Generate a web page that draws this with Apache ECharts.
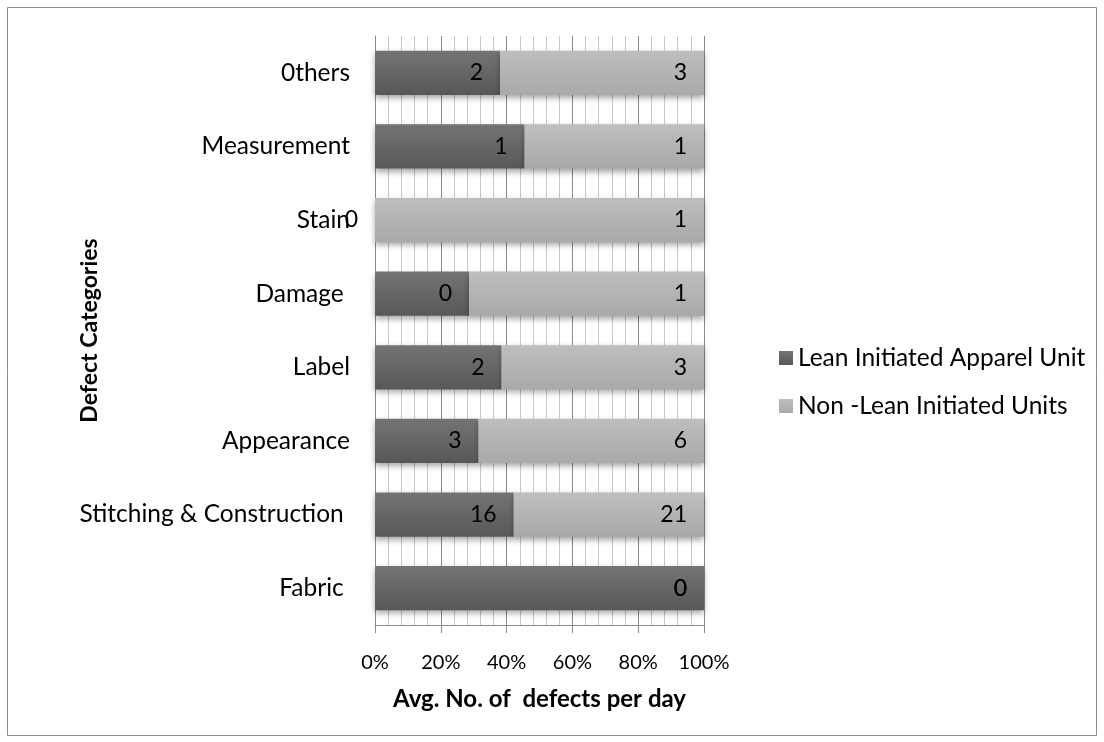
<!DOCTYPE html>
<html>
<head>
<meta charset="utf-8">
<script src="https://cdn.jsdelivr.net/npm/echarts@6/dist/echarts.min.js"></script>
<style>
html,body{margin:0;padding:0;background:#fff;}
#chart{width:1104px;height:742px;}
</style>
</head>
<body>
<div id="chart"></div>
<script>
// Categories listed bottom to top
const categories = ['Fabric ', 'Stitching & Construction ', 'Appearance', 'Label', 'Damage ', 'Stain', 'Measurement', '0thers'];
// Average number of defects per day (estimated from bar proportions and labels)
const leanValues = [0.2, 15.6, 2.8, 2.0, 0.4, 0, 1.0, 1.9];
const nonLeanValues = [0, 21.4, 6.1, 3.2, 1.0, 1.0, 1.2, 3.1];
const seriesNames = ['Lean Initiated Apparel Unit', 'Non -Lean Initiated Units'];
const xTickFormat = '{value}%';

const FONT = 'Lato';

function pctData(vals, other) {
  return vals.map((v, i) => {
    const total = v + other[i];
    return { value: total > 0 ? v / total * 100 : 0, raw: v };
  });
}

const chart = echarts.init(document.getElementById('chart'));

const barShadow = {
  shadowColor: 'rgba(0,0,0,0.35)',
  shadowBlur: 6,
  shadowOffsetY: 3
};

const labelCfg = {
  show: true,
  position: 'insideRight',
  distance: 17,
  color: '#000',
  fontFamily: FONT,
  fontSize: 23,
  formatter: p => String(Math.round(p.data.raw))
};

chart.setOption({
  animation: false,
  textStyle: { fontFamily: FONT },
  graphic: [{
    type: 'rect',
    shape: { x: 7.5, y: 7.5, width: 1089, height: 728 },
    style: { fill: 'none', stroke: '#8a8a8a', lineWidth: 1 },
    silent: true
  }],
  grid: { left: 375, right: 400, top: 36, bottom: 117, containLabel: false },
  legend: {
    orient: 'vertical',
    left: 774,
    top: 339,
    itemWidth: 14,
    itemHeight: 14,
    itemGap: 20,
    icon: 'rect',
    textStyle: { fontFamily: FONT, fontSize: 24.5, color: '#000', lineHeight: 28 },
    data: seriesNames
  },
  xAxis: {
    type: 'value',
    min: 0,
    max: 100,
    interval: 20,
    name: 'Avg. No. of  defects per day',
    nameLocation: 'middle',
    nameGap: 62,
    nameMoveOverlap: false,
    nameTextStyle: { fontFamily: FONT, fontSize: 24, fontWeight: 'bold', color: '#000' },
    axisLine: { show: true, lineStyle: { color: '#8a8a8a', width: 1 } },
    axisTick: { show: true, length: 8, lineStyle: { color: '#8a8a8a' } },
    axisLabel: { formatter: xTickFormat, fontFamily: FONT, fontSize: 20, color: '#000', margin: 28 },
    splitLine: { show: true, lineStyle: { color: '#8a8a8a', width: 1 } },
    minorTick: { show: false, splitNumber: 5 },
    minorSplitLine: { show: true, lineStyle: { color: '#c8c8c8', width: 1 } }
  },
  yAxis: {
    type: 'category',
    data: categories,
    name: 'Defect Categories',
    nameLocation: 'middle',
    nameGap: 274,
    nameMoveOverlap: false,
    nameRotate: 90,
    nameTextStyle: { fontFamily: FONT, fontSize: 23, fontWeight: 'bold', color: '#000' },
    axisLine: { show: true, lineStyle: { color: '#8a8a8a', width: 1 } },
    axisTick: { show: false },
    axisLabel: { fontFamily: FONT, fontSize: 24.5, color: '#000', margin: 25 },
    splitLine: { show: false }
  },
  series: [
    {
      name: seriesNames[0],
      type: 'bar',
      stack: 'total',
      barCategoryGap: '40%',
      data: pctData(leanValues, nonLeanValues),
      itemStyle: Object.assign({
        color: new echarts.graphic.LinearGradient(0, 0, 0, 1, [
          { offset: 0, color: '#747474' },
          { offset: 1, color: '#585858' }
        ])
      }, barShadow),
      label: labelCfg
    },
    {
      name: seriesNames[1],
      type: 'bar',
      stack: 'total',
      barCategoryGap: '40%',
      data: pctData(nonLeanValues, leanValues),
      itemStyle: Object.assign({
        color: new echarts.graphic.LinearGradient(0, 0, 0, 1, [
          { offset: 0, color: '#bebebe' },
          { offset: 1, color: '#a9a9a9' }
        ])
      }, barShadow),
      label: labelCfg
    }
  ]
});
</script>
</body>
</html>
